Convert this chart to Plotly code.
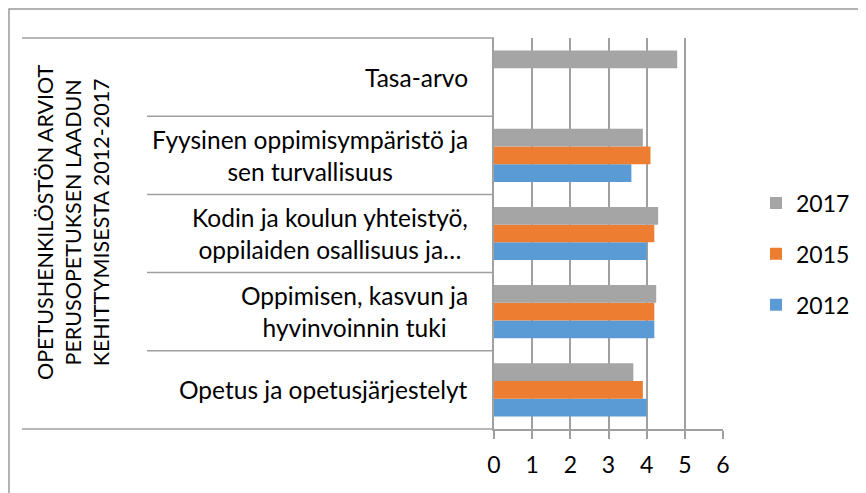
import plotly.graph_objects as go

categories = ["Opetus ja opetusjärjestelyt",
              "Oppimisen, kasvun ja hyvinvoinnin tuki",
              "Kodin ja koulun yhteistyö, oppilaiden osallisuus ja…",
              "Fyysinen oppimisympäristö ja sen turvallisuus",
              "Tasa-arvo"]
cat_labels = ["Opetus ja opetusjärjestelyt",
              "Oppimisen, kasvun ja<br>hyvinvoinnin tuki",
              "Kodin ja koulun yhteistyö,<br>oppilaiden osallisuus ja…",
              "Fyysinen oppimisympäristö ja<br>sen turvallisuus",
              "Tasa-arvo"]
series_names = ["2012", "2015", "2017"]
v2012 = [4.0, 4.2, 4.0, 3.6, None]
v2015 = [3.9, 4.2, 4.2, 4.1, None]
v2017 = [3.65, 4.25, 4.3, 3.9, 4.8]
x_ticks = [0, 1, 2, 3, 4, 5, 6]
outer_title = "OPETUSHENKILÖSTÖN ARVIOT<br>PERUSOPETUKSEN LAADUN<br>KEHITTYMISESTA 2012-2017"

colors = ["#5b9bd5", "#ed7d31", "#a5a5a5"]
FONT = "Lato, 'Open Sans', sans-serif"
LINE = "#a0a0a0"

# page has an 8px body margin: shrink the figure so it fills the window
OFF = 8
W, H = 866 - OFF, 493 - OFF
ML, MR, MT, MB = 494 - OFF, 143, 38 - OFF, 64
PW, PH = W - ML - MR, H - MT - MB

def px_x(px):
    return (px - OFF - ML) / PW

def px_y(py):
    return (H - MB - (py - OFF)) / PH

fig = go.Figure()
for i, (name, vals, col) in enumerate(zip(series_names, [v2012, v2015, v2017], colors)):
    fig.add_trace(go.Bar(y=categories, x=vals, name=name, orientation="h",
                         marker=dict(color=col, line=dict(width=0)),
                         legendgroup=name, legendrank=10 - i))

shapes = []
n = len(categories)
for k in range(n + 1):
    x0 = px_x(22) if k in (0, n) else px_x(147)
    shapes.append(dict(type="line", xref="paper", yref="paper",
                       x0=x0, x1=0, y0=k / n, y1=k / n,
                       line=dict(color=LINE, width=1.5)))
# chart area border (top & left visible)
shapes.append(dict(type="rect", xref="paper", yref="paper",
                   x0=px_x(9), x1=px_x(900), y0=px_y(520), y1=px_y(9),
                   line=dict(color="#999999", width=1.5), layer="below"))

annotations = []
for c, lab in zip(categories, cat_labels):
    annotations.append(dict(x=px_x(470), xref="paper", y=c, yref="y",
                            text=lab, showarrow=False, xanchor="right",
                            yanchor="middle", align="center",
                            font=dict(family=FONT, size=24.5, color="#000000")))
annotations.append(dict(x=px_x(73), xref="paper", y=px_y(222), yref="paper",
                        text=outer_title, showarrow=False, textangle=-90,
                        xanchor="center", yanchor="middle", align="center",
                        font=dict(family=FONT, size=21.5, color="#000000")))

fig.update_layout(
    width=W, height=H,
    margin=dict(l=ML, r=MR, t=MT, b=MB, autoexpand=False),
    paper_bgcolor="white", plot_bgcolor="white",
    barmode="group", bargap=0.32, bargroupgap=0,
    font=dict(family=FONT, size=23, color="#000000"),
    showlegend=True,
    legend=dict(x=px_x(756), y=px_y(254), xanchor="left", yanchor="middle",
                traceorder="grouped", tracegroupgap=18,
                font=dict(family=FONT, size=23, color="#000000"),
                bgcolor="rgba(0,0,0,0)"),
    shapes=shapes,
    annotations=annotations,
    xaxis=dict(range=[0, 6], tickvals=x_ticks, ticktext=[str(t) for t in x_ticks],
               showgrid=True, gridcolor=LINE, gridwidth=1.5,
               showline=True, linecolor=LINE, linewidth=1.5,
               ticks="outside", ticklen=8, tickcolor=LINE, tickwidth=1.5,
               ticklabelstandoff=7,
               zeroline=False, fixedrange=True,
               tickfont=dict(family=FONT, size=23, color="#000000")),
    yaxis=dict(categoryorder="array", categoryarray=categories,
               showticklabels=False, showgrid=False, zeroline=False,
               showline=True, linecolor=LINE, linewidth=1.5, ticks=""),
)

fig.write_html("out.html")
